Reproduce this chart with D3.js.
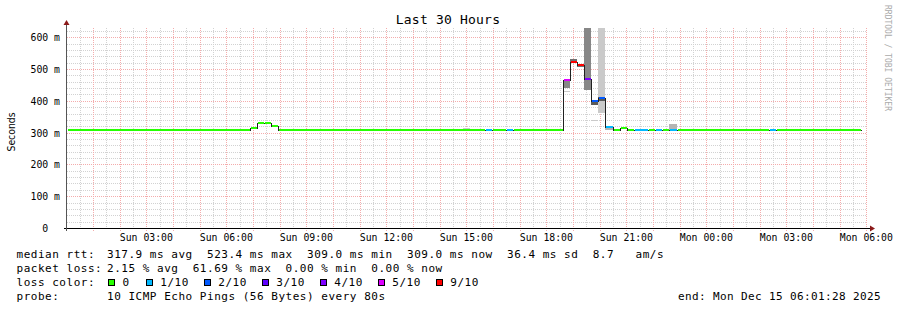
<!DOCTYPE html>
<html lang="en">
<head>
<meta charset="UTF-8">
<title>Last 30 Hours</title>
<style>
	body { margin: 0; background: #fff; }
	svg { display: block; }
	text { font-family: "DejaVu Sans Mono", monospace; white-space: pre; fill: #000; }
</style>
</head>
<body>
<svg width="897" height="310"></svg>

<script src="https://d3js.org/d3.v7.min.js"></script>
<script>
	// median rtt per 16 min bin (a bin lasts until the next start)
	var binStart = ["2025-12-14 00:01", "2025-12-14 06:53", "2025-12-14 07:09", "2025-12-14 07:25", "2025-12-14 07:41", "2025-12-14 07:57",
		"2025-12-14 15:41", "2025-12-14 15:57", "2025-12-14 16:29", "2025-12-14 16:45",
		"2025-12-14 18:37", "2025-12-14 18:53", "2025-12-14 19:09", "2025-12-14 19:25", "2025-12-14 19:41", "2025-12-14 19:57", "2025-12-14 20:13",
		"2025-12-14 20:29", "2025-12-14 20:45", "2025-12-14 21:01", "2025-12-14 21:17", "2025-12-14 21:49", "2025-12-14 22:05", "2025-12-14 22:21", "2025-12-14 22:37", "2025-12-14 22:53",
		"2025-12-15 02:21", "2025-12-15 02:37"];
	var medianMs = [309, 313, 331, 329, 321, 309,
		309, 309, 309, 309,
		465, 523, 513, 469, 399, 409, 319,
		309, 313, 309, 309, 309, 309, 309, 309, 309,
		309, 309];
	var lossOf10 = [0, 0, 0, 0, 0, 0,
		1, 0, 1, 0,
		5, 6, 6, 4, 2, 2, 1,
		0, 0, 0, 1, 0, 1, 0, 1, 0,
		1, 0];
	var dataEnd = "2025-12-15 05:49";

	// smoke: spread of the pings, only where it is visible
	var smokeStart = ["2025-12-14 14:53", "2025-12-14 18:37", "2025-12-14 18:37", "2025-12-14 18:53", "2025-12-14 19:09", "2025-12-14 19:25",
		"2025-12-14 19:41", "2025-12-14 19:41", "2025-12-14 19:57", "2025-12-14 19:57", "2025-12-14 20:13", "2025-12-14 22:37"];
	var smokeLoMs = [309, 440, 429, 523, 505, 434, 386, 336, 362, 399, 309, 309];
	var smokeHiMs = [316, 465, 432, 531, 513, 700, 399, 341, 700, 411, 319, 327];
	var smokePings = [1, 4, 1, 5, 5, 4, 6, 1, 1, 6, 2, 2];

	var lossLabels = ["0", "1/10", "2/10", "3/10", "4/10", "5/10", "9/10"];
	var lossColors = ["#26ff00", "#00b8ff", "#0059ff", "#5e00ff", "#7e00ff", "#dd00ff", "#ff0000"];

	var rttStats = "317.9 ms avg  523.4 ms max  309.0 ms min  309.0 ms now  36.4 ms sd  8.7   am/s";
	var lossStats = "2.15 % avg  61.69 % max  0.00 % min  0.00 % now";
	var probeText = "10 ICMP Echo Pings (56 Bytes) every 80s";
	var endText = "end: Mon Dec 15 06:01:28 2025";
	var graphStart = "2025-12-14 00:01:28";
	var graphEnd = "2025-12-15 06:01:28";

	var parseMin = d3.timeParse("%Y-%m-%d %H:%M");
	var parseSec = d3.timeParse("%Y-%m-%d %H:%M:%S");

	var svg = d3.select("svg");
	var pL = 67, pR = 867, pT = 28, pB = 228;

	var x = d3.scaleTime()
		.domain([parseSec(graphStart), parseSec(graphEnd)])
		.range([pL, pR]);
	var y = d3.scaleLinear()
		.domain([0, 629])
		.range([pB, pT]);
	var lossColor = d3.scaleThreshold()
		.domain([1, 2, 3, 4, 5, 6])
		.range(lossColors);
	var smokeGray = d3.scaleLinear()
		.domain([1, 6])
		.range(["#cacaca", "#5a5a5a"]);

	var px = function(v) { return Math.round(v) + 0.5; };

	// grid
	var grid = svg.append("g").attr("shape-rendering", "crispEdges");
	var minorMs = d3.range(20, 629, 20).filter(function(v) { return v % 100 !== 0; });
	var majorMs = d3.range(100, 629, 100);
	var t0 = x.domain()[0], t1 = x.domain()[1];
	var minorT = d3.timeMinute.every(30).range(t0, t1).filter(function(d) { return d.getMinutes() !== 0; });
	var majorT = d3.timeHour.range(t0, t1);

	grid.selectAll(".hmin").data(minorMs).enter().append("line")
		.attr("x1", pL).attr("x2", pR)
		.attr("y1", function(d) { return px(y(d)); }).attr("y2", function(d) { return px(y(d)); })
		.attr("stroke", "#d2d2d2").attr("stroke-dasharray", "1,1");
	grid.selectAll(".vmin").data(minorT).enter().append("line")
		.attr("y1", pT).attr("y2", pB)
		.attr("x1", function(d) { return px(x(d)); }).attr("x2", function(d) { return px(x(d)); })
		.attr("stroke", "#d2d2d2").attr("stroke-dasharray", "1,1");
	grid.selectAll(".hmaj").data(majorMs).enter().append("line")
		.attr("x1", pL).attr("x2", pR)
		.attr("y1", function(d) { return px(y(d)); }).attr("y2", function(d) { return px(y(d)); })
		.attr("stroke", "#f4acac").attr("stroke-dasharray", "1,1");
	grid.selectAll(".vmaj").data(majorT).enter().append("line")
		.attr("y1", pT).attr("y2", pB + 3)
		.attr("x1", function(d) { return px(x(d)); }).attr("x2", function(d) { return px(x(d)); })
		.attr("stroke", "#f4acac").attr("stroke-dasharray", "1,1");

	svg.append("clipPath").attr("id", "plot")
		.append("rect").attr("x", pL).attr("y", pT).attr("width", pR - pL).attr("height", pB - pT);
	var plot = svg.append("g").attr("clip-path", "url(#plot)").attr("shape-rendering", "crispEdges");

	// smoke
	plot.selectAll(".smoke").data(smokeStart).enter().append("rect")
		.attr("x", function(d) { return Math.round(x(parseMin(d))); })
		.attr("width", function(d) { var s = parseMin(d); return Math.round(x(d3.timeMinute.offset(s, 16))) - Math.round(x(s)); })
		.attr("y", function(d, i) { return Math.round(y(smokeHiMs[i])); })
		.attr("height", function(d, i) { return Math.max(1, Math.round(y(smokeLoMs[i])) - Math.round(y(smokeHiMs[i]))); })
		.attr("fill", function(d, i) { return smokeGray(smokePings[i]); });

	// median line
	var bins = binStart.map(function(d, i) {
		return { start: parseMin(d), end: parseMin(i + 1 < binStart.length ? binStart[i + 1] : dataEnd), ms: medianMs[i], loss: lossOf10[i] };
	});
	var pts = bins.map(function(b) { return [b.start, b.ms]; });
	pts.push([parseMin(dataEnd), medianMs[medianMs.length - 1]]);
	var line = d3.line()
		.x(function(d) { return Math.round(x(d[0])) + 0.5; })
		.y(function(d) { return Math.round(y(d[1])) + 0.5; })
		.curve(d3.curveStepAfter);
	plot.append("path").attr("d", line(pts))
		.attr("fill", "none").attr("stroke", "#202020").attr("stroke-width", 1);

	// loss colour band on the median
	plot.selectAll(".band").data(bins).enter().append("rect")
		.attr("x", function(d) { return Math.round(x(d.start)) + 1; })
		.attr("width", function(d) { return Math.round(x(d.end)) - Math.round(x(d.start)) - 1; })
		.attr("y", function(d) { return Math.round(y(d.ms)) - 1; })
		.attr("height", 2)
		.attr("fill", function(d) { return lossColor(d.loss); });

	// axes
	svg.append("line").attr("x1", 64).attr("x2", 870).attr("y1", pB + 0.5).attr("y2", pB + 0.5)
		.attr("stroke", "#000").attr("shape-rendering", "crispEdges");
	svg.append("line").attr("x1", pL - 0.5).attr("x2", pL - 0.5).attr("y1", pB + 3).attr("y2", 23)
		.attr("stroke", "#555").attr("shape-rendering", "crispEdges");
	svg.append("path").attr("d", "M870,225.5L875,228.5L870,231.5Z").attr("fill", "#8b1a1a");
	svg.append("path").attr("d", "M63.5,25L66.5,20L69.5,25Z").attr("fill", "#8b1a1a");

	var fmtTime = d3.timeFormat("%a %H:%M");
	svg.selectAll(".xl").data(d3.timeHour.every(3).range(t0, t1)).enter().append("text")
		.attr("x", function(d) { return x(d); }).attr("y", 241)
		.attr("text-anchor", "middle").style("font-size", "9.8px")
		.text(fmtTime);
	svg.selectAll(".yl").data(majorMs.concat([0])).enter().append("text")
		.attr("x", 60).attr("y", function(d) { return Math.round(y(d)) + 4; })
		.attr("text-anchor", "end").style("font-size", "9.8px")
		.text(function(d) { return d === 0 ? "0  " : d + " m"; });

	svg.append("text").attr("transform", "translate(14.5,132) rotate(-90)")
		.attr("text-anchor", "middle").style("font-family", "'DejaVu Sans', sans-serif").style("font-size", "10.5px")
		.attr("textLength", 39).attr("lengthAdjust", "spacingAndGlyphs")
		.text("Seconds");
	svg.append("text").attr("x", 448).attr("y", 24).attr("text-anchor", "middle")
		.style("font-size", "13px").style("letter-spacing", "0.2px")
		.text("Last 30 Hours");
	svg.append("text").attr("transform", "translate(885,5) rotate(90)")
		.style("font-size", "8px").style("fill", "#aaaaaa")
		.text("RRDTOOL / TOBI OETIKER");

	// legend
	var leg = svg.append("g").style("font-size", "11px").style("letter-spacing", "0.52px");
	var rows = [["median rtt:", rttStats, 258], ["packet loss:", lossStats, 272], ["loss color:", "", 286], ["probe:", probeText, 300]];
	rows.forEach(function(r) {
		leg.append("text").attr("x", 16.5).attr("y", r[2]).text(r[0]);
		leg.append("text").attr("x", 107).attr("y", r[2]).text(r[1]);
	});
	var bx = 108;
	lossLabels.forEach(function(lab, i) {
		leg.append("rect").attr("x", bx + 0.5).attr("y", 279.5).attr("width", 6).attr("height", 6)
			.attr("fill", lossColors[i]).attr("stroke", "#000").attr("shape-rendering", "crispEdges");
		leg.append("text").attr("x", bx + 14.5).attr("y", 286).text(lab);
		bx += (lab.length + 4) * 7.25 + (i === 0 ? 1.5 : 0);
	});
	leg.append("text").attr("x", 678).attr("y", 300).style("letter-spacing", "0.38px").text(endText);
</script>
</body>
</html>
